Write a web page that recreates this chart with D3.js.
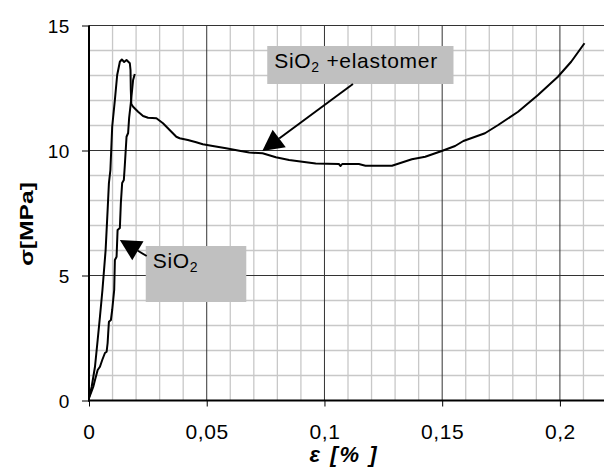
<!DOCTYPE html>
<html>
<head>
<meta charset="utf-8">
<script src="https://cdn.jsdelivr.net/npm/d3@7"></script>
<style>
body { margin: 0; background: #fff; }
svg { font-family: "Liberation Sans", Arial, sans-serif; display: block; }
</style>
</head>
<body>
<div id="chart"></div>
<script>
const WIDTH = 604;
const HEIGHT = 468;

// strain [%] / stress [MPa]
var elastStrain = [0, 0.00114, 0.00254, 0.00368, 0.00465, 0.00571, 0.00706, 0.00791, 0.00846, 0.00909,
  0.00985, 0.01099, 0.01197, 0.01311, 0.01395, 0.01493, 0.01594, 0.01734, 0.01763, 0.01776, 0.01797,
  0.01873, 0.02085, 0.02296, 0.02507, 0.02863, 0.03142, 0.03425, 0.03708, 0.03848, 0.04199, 0.04554,
  0.04833, 0.05256, 0.05822, 0.06385, 0.06808, 0.0737, 0.07937, 0.08499, 0.09061, 0.09628, 0.10613,
  0.10685, 0.10753, 0.11459, 0.11742, 0.12867, 0.13712, 0.14279, 0.14981, 0.15548, 0.15899, 0.16816,
  0.17378, 0.18224, 0.1907, 0.19915, 0.20478, 0.21044];
var elastStress = [0.1, 0.55, 1.35, 2.42, 3.35, 4.42, 6.02, 7.62, 8.7, 9.22,
  10.95, 12.02, 13.02, 13.55, 13.64, 13.54, 13.62, 13.49, 13.22, 12.42, 11.86,
  11.75, 11.55, 11.38, 11.31, 11.29, 11.09, 10.82, 10.55, 10.49, 10.42, 10.33,
  10.25, 10.18, 10.09, 9.99, 9.92, 9.89, 9.73, 9.62, 9.55, 9.48, 9.46,
  9.38, 9.46, 9.46, 9.39, 9.39, 9.65, 9.75, 9.98, 10.18, 10.38, 10.69,
  11.02, 11.55, 12.22, 12.95, 13.55, 14.29];

var sio2Strain = [0, 0.00085, 0.00182, 0.00254, 0.00368, 0.00465, 0.00562, 0.00677, 0.00748, 0.00791,
  0.00816, 0.00846, 0.0093, 0.00985, 0.01027, 0.0107, 0.01099, 0.01171, 0.01214, 0.01311,
  0.01353, 0.01408, 0.0148, 0.01522, 0.01594, 0.01662, 0.01704, 0.01776, 0.01873, 0.01945];
var sio2Stress = [0.1, 0.3, 0.55, 0.82, 1.22, 1.35, 1.62, 1.9, 1.95, 2.3,
  2.7, 3.15, 3.22, 3.62, 4.02, 4.42, 5.62, 5.75, 6.82, 6.9,
  7.9, 8.7, 8.82, 9.42, 10.55, 10.7, 11.3, 11.9, 12.82, 13.06];

var xTicks = [0, 0.05, 0.1, 0.15, 0.2];
var xTickLabels = ["0", "0,05", "0,1", "0,15", "0,2"];
var yTicks = [0, 5, 10, 15];
var yTickLabels = ["0", "5", "10", "15"];
var xMinor = d3.range(1, 22).map(d => d / 100);
var yMinor = d3.range(1, 15);

var x = d3.scaleLinear().domain([0, 0.22]).range([89, 607]);
var y = d3.scaleLinear().domain([0, 15]).range([400.5, 25.5]);

var svg = d3.select("#chart").append("svg")
    .attr("width", WIDTH)
    .attr("height", HEIGHT);

// minor grid
svg.append("g").selectAll("line").data(xMinor.filter(d => xTicks.indexOf(d) < 0))
  .join("line")
    .attr("x1", d => x(d)).attr("x2", d => x(d))
    .attr("y1", y(0)).attr("y2", y(15))
    .attr("stroke", "#c8c8c8").attr("stroke-width", 1.3);
svg.append("g").selectAll("line").data(yMinor.filter(d => yTicks.indexOf(d) < 0))
  .join("line")
    .attr("x1", x(0)).attr("x2", WIDTH)
    .attr("y1", d => y(d)).attr("y2", d => y(d))
    .attr("stroke", "#c8c8c8").attr("stroke-width", 1.3);

// major grid
svg.append("g").selectAll("line").data(xTicks.slice(1))
  .join("line")
    .attr("x1", d => x(d)).attr("x2", d => x(d))
    .attr("y1", y(0)).attr("y2", y(15))
    .attr("stroke", "#333").attr("stroke-width", 1);
svg.append("g").selectAll("line").data(yTicks.slice(1))
  .join("line")
    .attr("x1", x(0)).attr("x2", WIDTH)
    .attr("y1", d => y(d)).attr("y2", d => y(d))
    .attr("stroke", "#333").attr("stroke-width", 1);

// axes
var xAxis = d3.axisBottom(x).tickValues(xTicks).tickSize(6)
    .tickFormat((d, i) => xTickLabels[i]);
var gx = svg.append("g").attr("transform", "translate(0," + y(0) + ")").call(xAxis);
gx.select(".domain").remove();
gx.append("line").attr("x1", x(0) - 1).attr("x2", WIDTH).attr("stroke", "#000").attr("stroke-width", 2);
gx.selectAll(".tick line").attr("stroke", "#000");
gx.selectAll(".tick text")
    .attr("y", 38).attr("dy", 0)
    .attr("font-size", 21).attr("letter-spacing", 0.6).attr("fill", "#000")
    .attr("font-family", "Liberation Sans, Arial, sans-serif");

var yAxis = d3.axisLeft(y).tickValues(yTicks).tickSize(7)
    .tickFormat((d, i) => yTickLabels[i]);
var gy = svg.append("g").attr("transform", "translate(" + x(0) + ",0)").call(yAxis);
gy.select(".domain").remove();
gy.append("line").attr("y1", y(0) + 1).attr("y2", y(15)).attr("stroke", "#000").attr("stroke-width", 2);
gy.selectAll(".tick line").attr("stroke", "#000");
gy.selectAll(".tick text")
    .attr("x", -19).attr("dy", "0.36em")
    .attr("font-size", 19).attr("letter-spacing", 0.6).attr("fill", "#000")
    .attr("font-family", "Liberation Sans, Arial, sans-serif");

// curves
var line = d3.line().x(d => x(d[0])).y(d => y(d[1]));
svg.append("path")
    .datum(d3.zip(elastStrain, elastStress))
    .attr("fill", "none").attr("stroke", "#000").attr("stroke-width", 2)
    .attr("stroke-linejoin", "round")
    .attr("d", line);
svg.append("path")
    .datum(d3.zip(sio2Strain, sio2Stress))
    .attr("fill", "none").attr("stroke", "#000").attr("stroke-width", 2)
    .attr("stroke-linejoin", "round")
    .attr("d", line);

// callouts (data coords)
var notes = [
  { name: "SiO", sub: "2", rest: " +elastomer", box: [0.0757, 14.18, 0.1548, 12.66],
    from: [0.1121, 12.66], tip: [0.0736, 9.98] },
  { name: "SiO", sub: "2", rest: "", box: [0.0241, 6.18, 0.0668, 3.94],
    from: [0.0245, 5.78], tip: [0.0131, 6.42] }
];

notes.forEach(n => {
  svg.append("rect")
      .attr("x", x(n.box[0])).attr("y", y(n.box[1]))
      .attr("width", x(n.box[2]) - x(n.box[0]))
      .attr("height", y(n.box[3]) - y(n.box[1]))
      .attr("fill", "#c0c0c0");
  var t = svg.append("text")
      .attr("x", x(n.box[0]) + 7).attr("y", y(n.box[1]) + 22)
      .attr("font-size", 21).attr("letter-spacing", 0.7).attr("fill", "#000");
  t.append("tspan").text(n.name);
  t.append("tspan").attr("font-size", 14).attr("dy", 4).text(n.sub);
  if (n.rest) t.append("tspan").attr("dy", -4).text(n.rest);

  var x0 = x(n.from[0]), y0 = y(n.from[1]), x1 = x(n.tip[0]), y1 = y(n.tip[1]);
  var dx = x1 - x0, dy = y1 - y0, len = Math.sqrt(dx * dx + dy * dy);
  var ux = dx / len, uy = dy / len;
  var hl = 21, hw = 11;
  var bx = x1 - ux * hl, by = y1 - uy * hl;
  svg.append("line")
      .attr("x1", x0).attr("y1", y0).attr("x2", bx).attr("y2", by)
      .attr("stroke", "#000").attr("stroke-width", 2);
  svg.append("path")
      .attr("d", "M" + x1 + "," + y1 +
        "L" + (bx - uy * hw) + "," + (by + ux * hw) +
        "L" + (bx + uy * hw) + "," + (by - ux * hw) + "Z")
      .attr("fill", "#000");
});

// axis titles
svg.append("text")
    .attr("x", 344).attr("y", 462)
    .attr("text-anchor", "middle")
    .attr("font-size", 22).attr("font-weight", "bold").attr("font-style", "italic")
    .attr("letter-spacing", 2)
    .text("ε [% ]");

svg.append("text")
    .attr("transform", "translate(33,224) rotate(-90)")
    .attr("text-anchor", "middle")
    .attr("font-size", 18).attr("font-weight", "bold")
    .attr("textLength", 84).attr("lengthAdjust", "spacingAndGlyphs")
    .text("σ[MPa]");
</script>
</body>
</html>
